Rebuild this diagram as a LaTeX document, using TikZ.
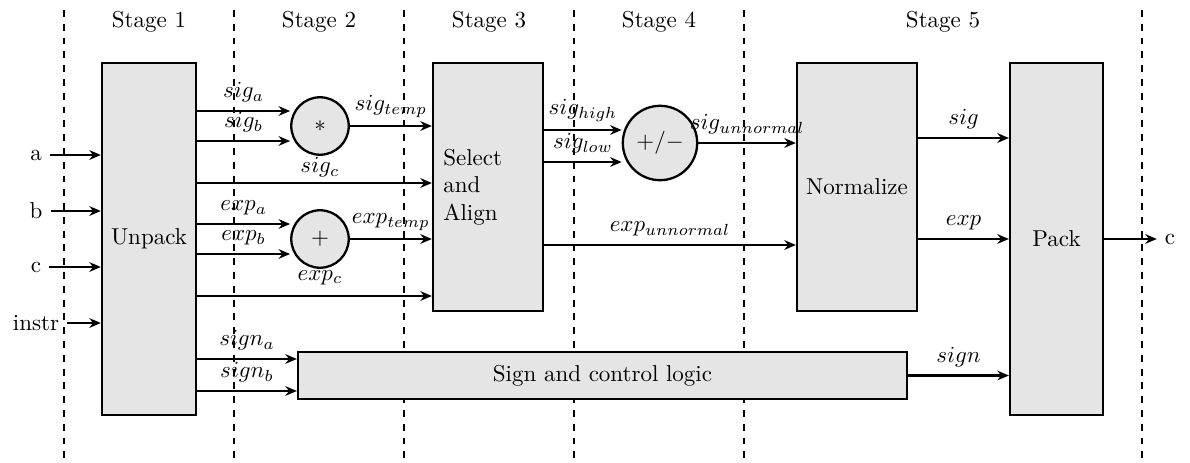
\documentclass[tikz,border=0pt]{standalone}
\usetikzlibrary{arrows.meta}
\tikzset{
  blk/.style={draw, line width=1pt, fill=gray!20, inner sep=3.33pt},
  opc/.style={draw, line width=1pt, circle, fill=gray!20, minimum size=25pt, inner sep=3.5pt},
  sigline/.style={line width=1pt, -{Stealth[length=5pt,width=4.2pt]}},
  stagesep/.style={line width=1pt, dashed},
  lbl/.style={inner sep=3.33pt},
  sublbl/.style={inner sep=0.5pt},
}
\begin{document}
\begin{tikzpicture}[x=0.435pt, y=-0.435pt]
\useasboundingbox (0,0) rectangle (1190,463);
% stage separators
\foreach \xx in {64,234,404,574,744,1142}
  \draw[stagesep] (\xx,10) -- (\xx,463);
\node (st1) at (149,22) {Stage 1};
\node (st2) at (319,22) {Stage 2};
\node (st3) at (489,22) {Stage 3};
\node (st4) at (659,22) {Stage 4};
\node (st5) at (943,22) {Stage 5};
% blocks
\node[blk, minimum width=94*0.435pt, minimum height=352*0.435pt] (unpack) at (149,239) {Unpack};
\node[blk, minimum width=110*0.435pt, minimum height=248*0.435pt, text width=110*0.435pt-9pt, align=left] (select) at (488,187) {Select\\and\\Align};
\node[blk, minimum width=120*0.435pt, minimum height=248*0.435pt] (norm) at (857,187) {Normalize};
\node[blk, minimum width=93*0.435pt, minimum height=352*0.435pt] (pack) at (1056.5,239) {Pack};
\node[blk, minimum width=609*0.435pt, minimum height=47*0.435pt] (sign) at (602.5,375.5) {Sign and control logic};
\node[opc] (mul) at (320,126) {$*$};
\node[opc] (add) at (320,239) {$+$};
\node[opc] (addsub) at (660,143) {$+/-$};
% inputs
\node (ina) at (36,155) {a};
\node (inb) at (36,211) {b};
\node (inc) at (36,267) {c};
\node (ininstr) at (36,323) {instr};
\draw[sigline] (ina.east) -- (unpack.west |- ina.east);
\draw[sigline] (inb.east) -- (unpack.west |- inb.east);
\draw[sigline] (inc.east) -- (unpack.west |- inc.east);
\draw[sigline] (ininstr.east) -- (unpack.west |- ininstr.east);
% stage 1 -> 2
\draw[sigline] (unpack.east |- 0,111) -- node[above, lbl] {$sig_a$} (mul.west |- 0,111);
\draw[sigline] (unpack.east |- 0,141) -- node[above, lbl] {$sig_b$} (mul.west |- 0,141);
\node[below, sublbl] (sigc) at (mul.south) {$sig_c$};
\draw[sigline] (unpack.east |- 0,183) -- (select.west |- 0,183);
\draw[sigline] (unpack.east |- 0,224) -- node[above, lbl] {$exp_a$} (add.west |- 0,224);
\draw[sigline] (unpack.east |- 0,254) -- node[above, lbl] {$exp_b$} (add.west |- 0,254);
\node[below, sublbl] (expc) at (add.south) {$exp_c$};
\draw[sigline] (unpack.east |- 0,296) -- (select.west |- 0,296);
\draw[sigline] (unpack.east |- 0,359) -- node[above, lbl] {$sign_a$} (sign.west |- 0,359);
\draw[sigline] (unpack.east |- 0,391) -- node[above, lbl] {$sign_b$} (sign.west |- 0,391);
% stage 2 -> 3
\draw[sigline] (mul.east) -- node[above, lbl] {$sig_{temp}$} (select.west |- mul.east);
\draw[sigline] (add.east) -- node[above, lbl] {$exp_{temp}$} (select.west |- add.east);
% stage 3 -> 4
\draw[sigline] (select.east |- 0,130) -- node[above, lbl] {$sig_{high}$} (addsub.west |- 0,130);
\draw[sigline] (select.east |- 0,162) -- node[above, lbl] {$sig_{low}$} (addsub.west |- 0,162);
\draw[sigline] (addsub.east) -- node[above, lbl] {$sig_{unnormal}$} (norm.west |- addsub.east);
\draw[sigline] (select.east |- 0,245) -- node[above, lbl] {$exp_{unnormal}$} (norm.west |- 0,245);
% stage 5
\draw[sigline] (norm.east |- 0,138) -- node[above, lbl] {$sig$} (pack.west |- 0,138);
\draw[sigline] (norm.east |- 0,239) -- node[above, lbl] {$exp$} (pack.west |- 0,239);
\draw[sigline] (sign.east) -- node[above, lbl] {$sign$} (pack.west |- sign.east);
% output
\node (outc) at (1170,239) {c};
\draw[sigline] (pack.east) -- (outc.west);
\end{tikzpicture}
\end{document}
